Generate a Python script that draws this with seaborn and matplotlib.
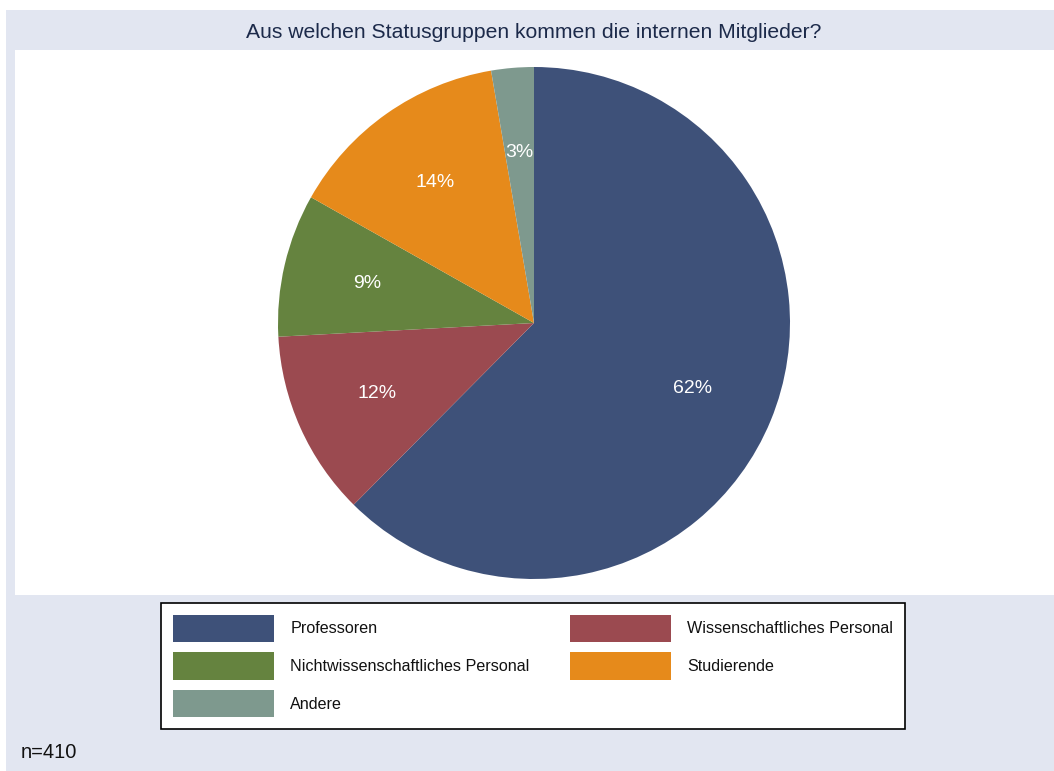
import matplotlib
matplotlib.use("Agg")
import matplotlib.pyplot as plt
import matplotlib.patches as mpatches
import seaborn as sns

sns.set_theme(style="white")
plt.rcParams["font.family"] = ["Liberation Sans", "DejaVu Sans"]

# ----------------------------------------------------------------------
# data (n=410)
# ----------------------------------------------------------------------
categories = ["Professoren", "Wissenschaftliches Personal",
              "Nichtwissenschaftliches Personal", "Studierende", "Andere"]
counts = [256, 48, 37, 58, 11]
colors = ["#3E5179", "#9B4A50", "#65833F", "#E68A1B", "#7E998E"]
title = "Aus welchen Statusgruppen kommen die internen Mitglieder?"
note = "n=410"

W, H = 1054, 771
bg = "#E2E6F1"

fig = plt.figure(figsize=(W / 100, H / 100), dpi=100)
fig.patch.set_facecolor("white")

# graph region (light bluish) and white plot region, behind the pie
fig.patches.append(mpatches.Rectangle((6 / W, 0), 1 - 6 / W, 1 - 10 / H,
                                      transform=fig.transFigure,
                                      facecolor=bg, edgecolor="none", zorder=-2))
fig.patches.append(mpatches.Rectangle((15 / W, 1 - 595 / H), 1 - 15 / W, (595 - 50) / H,
                                      transform=fig.transFigure,
                                      facecolor="white", edgecolor="none", zorder=-1))

# pie axes: centre (534, 323), radius 256 px
cx, cy, r = 534, 323, 256
ax = fig.add_axes([(cx - r) / W, 1 - (cy + r) / H, 2 * r / W, 2 * r / H])
ax.set_facecolor("none")

wedges, _, autotexts = ax.pie(
    counts, colors=colors, startangle=90, counterclock=False,
    autopct="%1.0f%%", pctdistance=0.67,
    textprops=dict(color="white", fontsize=14),
    wedgeprops=dict(linewidth=0),
)
ax.set_xlim(-1, 1)
ax.set_ylim(-1, 1)
ax.set_aspect("equal")
ax.axis("off")

fig.text(cx / W, 1 - 33 / H, title, ha="center", va="center",
         fontsize=15.2, color="#1C2A4A")

# legend, row-wise order: matplotlib fills columns first
order = [0, 2, 4, 1, 3]
handles = [mpatches.Patch(facecolor=colors[i], edgecolor="none") for i in order]
labels = [categories[i] for i in order]
leg = fig.legend(handles, labels, ncol=2, loc="center",
                 bbox_to_anchor=(533 / W, 1 - 666 / H),
                 fontsize=11.6, handlelength=6.3, handleheight=2.22,
                 handletextpad=1.0, columnspacing=2.5, labelspacing=0.645,
                 borderpad=0.72, fancybox=False, framealpha=1,
                 edgecolor="black", facecolor="white")
leg.get_frame().set_linewidth(1.2)
for t in leg.get_texts():
    t.set_color("#111111")

fig.text(21 / W, 1 - 752 / H, note, ha="left", va="center",
         fontsize=14.5, color="#111111")

fig.savefig("out.png", dpi=100, facecolor=fig.get_facecolor())
